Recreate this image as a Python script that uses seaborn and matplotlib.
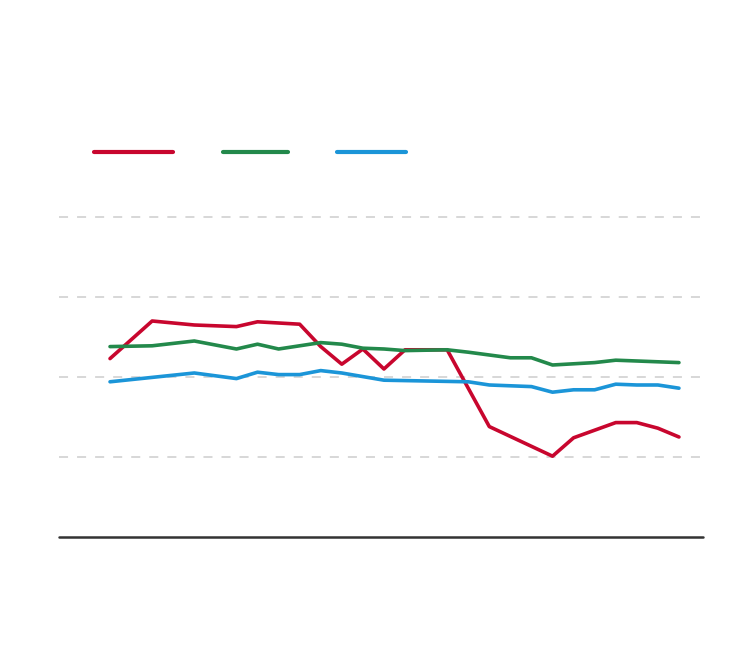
import pandas as pd
import matplotlib
matplotlib.use("Agg")
import matplotlib.pyplot as plt
from matplotlib.lines import Line2D
import seaborn as sns

# Series values (index = time step, value = level)
red_x = [0, 2, 4, 6, 7, 9, 10, 11, 12, 13, 14, 16, 18, 21, 22, 24, 25, 26, 27]
red_y = [2.23, 2.70, 2.65, 2.63, 2.69, 2.66, 2.38, 2.16, 2.35, 2.10, 2.34, 2.34,
         1.38, 1.01, 1.24, 1.43, 1.43, 1.36, 1.25]

green_x = [0, 2, 4, 6, 7, 8, 10, 11, 12, 13, 14, 16, 17, 19, 20, 21, 23, 24, 27]
green_y = [2.38, 2.39, 2.45, 2.35, 2.41, 2.35, 2.43, 2.41, 2.36, 2.35, 2.33, 2.34,
           2.31, 2.24, 2.24, 2.15, 2.18, 2.21, 2.18]

blue_x = [0, 4, 6, 7, 8, 9, 10, 11, 13, 17, 18, 20, 21, 22, 23, 24, 25, 26, 27]
blue_y = [1.94, 2.05, 1.98, 2.06, 2.03, 2.03, 2.08, 2.05, 1.96, 1.94, 1.90, 1.88,
          1.81, 1.84, 1.84, 1.91, 1.90, 1.90, 1.86]

series_names = ["red", "green", "blue"]
colors = {"red": "#c8062e", "green": "#23894b", "blue": "#1b95d8"}
grid_values = [1, 2, 3, 4]

frames = []
for name, xs, ys in [("red", red_x, red_y), ("green", green_x, green_y), ("blue", blue_x, blue_y)]:
    frames.append(pd.DataFrame({"step": xs, "value": ys, "series": name}))
df = pd.concat(frames, ignore_index=True)

sns.set_style("white")
fig = plt.figure(figsize=(7.5, 6.6), dpi=100)
ax = fig.add_axes([0.0787, 0.1864, 0.8586, 0.4848])

for g in grid_values:
    ax.axhline(g, color="#d4d4d4", lw=1.3, ls=(0, (5, 5)), zorder=0, clip_on=False)
ax.axhline(0, color="#333333", lw=1.8, zorder=1, clip_on=False)

sns.lineplot(data=df, x="step", y="value", hue="series", palette=colors,
             hue_order=series_names, lw=2.6, legend=False, ax=ax, sort=True,
             estimator=None)
for line in ax.lines:
    line.set_solid_capstyle("round")

ax.set_xlim(-2.42, 28.14)
ax.set_ylim(0, 4)
ax.set_xticks([])
ax.set_yticks([])
ax.set_xlabel("")
ax.set_ylabel("")
sns.despine(ax=ax, left=True, bottom=True)

# legend keys (no labels in the reference)
key_spans = [(94, 173), (223, 288), (337, 406)]
for name, (x0, x1) in zip(series_names, key_spans):
    fig.add_artist(Line2D([x0 / 750, x1 / 750], [1 - 152 / 660] * 2,
                          color=colors[name], lw=3, solid_capstyle="round"))

fig.savefig("out.png", dpi=100)
